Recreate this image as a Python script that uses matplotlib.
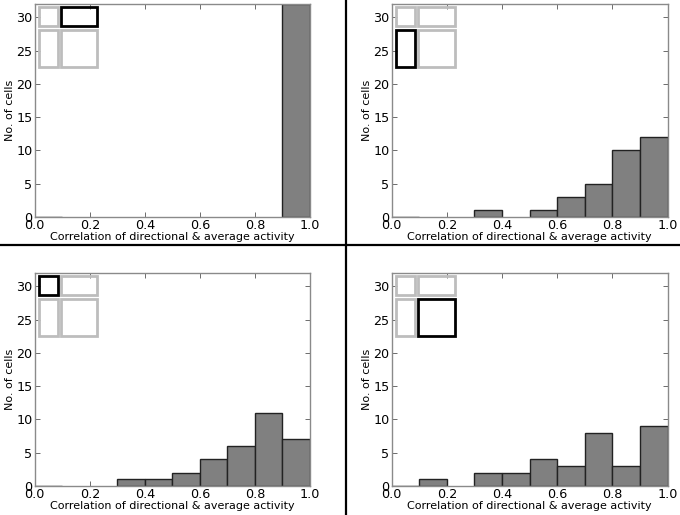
import matplotlib
matplotlib.use("Agg")
import matplotlib.pyplot as plt
from matplotlib.patches import Rectangle
from matplotlib.lines import Line2D
import numpy as np

bin_edges = [0.0, 0.1, 0.2, 0.3, 0.4, 0.5, 0.6, 0.7, 0.8, 0.9, 1.0]
counts_top_left = [0, 0, 0, 0, 0, 0, 0, 0, 0, 32]
counts_top_right = [0, 0, 0, 1, 0, 1, 3, 5, 10, 12]
counts_bottom_left = [0, 0, 0, 1, 1, 2, 4, 6, 11, 7]
counts_bottom_right = [0, 1, 0, 2, 2, 4, 3, 8, 3, 9]
highlight = ["top_right", "bottom_left", "top_left", "bottom_right"]

xticks = [0.0, 0.2, 0.4, 0.6, 0.8, 1.0]
yticks = [0, 5, 10, 15, 20, 25, 30]
xlabel = "Correlation of directional & average activity"
ylabel = "No. of cells"

fig = plt.figure(figsize=(6.8, 5.15), dpi=100)
W, H = 680, 515

panels = [
    (counts_top_left, (34.7, 4, 310.0, 217)),
    (counts_top_right, (391.7, 4, 667.5, 217)),
    (counts_bottom_left, (34.7, 273, 310.0, 486)),
    (counts_bottom_right, (391.7, 273, 667.5, 486)),
]

boxes = {
    "top_left": (0.014, 0.898, 0.083, 0.985),
    "top_right": (0.095, 0.898, 0.228, 0.985),
    "bottom_left": (0.014, 0.704, 0.083, 0.880),
    "bottom_right": (0.095, 0.704, 0.228, 0.880),
}

tick_fs = 9.2
label_fs = 8.0
for (counts, (x0, y0, x1, y1)), hl in zip(panels, highlight):
    ax = fig.add_axes([x0 / W, 1 - y1 / H, (x1 - x0) / W, (y1 - y0) / H])
    lefts = np.array(bin_edges[:-1])
    widths = np.diff(bin_edges)
    ecs = ["#222222" if (c > 0 or i == 0) else "none" for i, c in enumerate(counts)]
    ax.bar(lefts, counts, width=widths, align="edge", color="#808080",
           edgecolor=ecs, linewidth=1.0, zorder=2)
    ax.set_xlim(0, 1)
    ax.set_ylim(0, 32)
    ax.set_xticks(xticks)
    ax.set_yticks(yticks)
    ax.set_xticklabels([f"{t:.1f}" for t in xticks], fontsize=tick_fs)
    ax.set_yticklabels([str(t) for t in yticks], fontsize=tick_fs)
    ax.tick_params(direction="in", top=True, right=True, length=3.5, width=0.6,
                   color="#555555", pad=1.5)
    for s in ax.spines.values():
        s.set_color("#8a8a8a")
        s.set_linewidth(1.0)
    ax.set_xlabel(xlabel, fontsize=label_fs, labelpad=0)
    ax.set_ylabel(ylabel, fontsize=label_fs, labelpad=1)
    for name, (bx0, by0, bx1, by1) in boxes.items():
        col = "black" if name == hl else "#bdbdbd"
        ax.add_patch(Rectangle((bx0, by0), bx1 - bx0, by1 - by0, transform=ax.transAxes,
                               fill=False, edgecolor=col, linewidth=2.0,
                               zorder=5 if name == hl else 4, clip_on=False))

fig.add_artist(Line2D([0, 1], [1 - 245 / H, 1 - 245 / H], transform=fig.transFigure,
                      color="black", linewidth=1.6))
fig.add_artist(Line2D([346 / W, 346 / W], [0, 1], transform=fig.transFigure,
                      color="black", linewidth=1.6))

fig.savefig("out.png", dpi=100)
